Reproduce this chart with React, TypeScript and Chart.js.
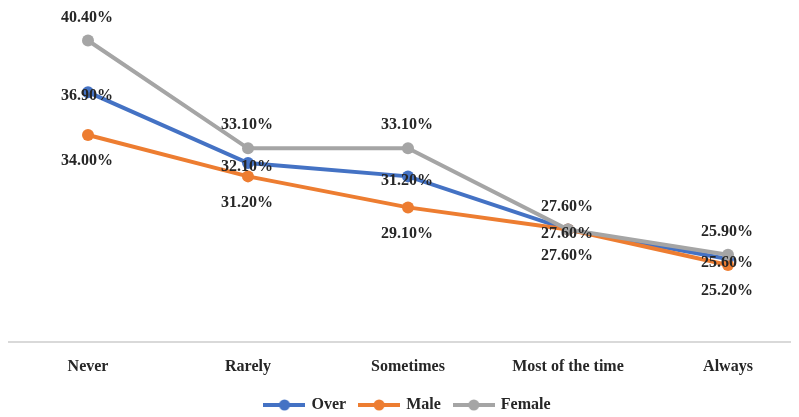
import React, { useEffect, useRef } from "react";
import { Chart, registerables } from "chart.js";

Chart.register(...registerables);

const categories = ["Never", "Rarely", "Sometimes", "Most of the time", "Always"];
const overValues = [36.9, 32.1, 31.2, 27.6, 25.6];
const maleValues = [34.0, 31.2, 29.1, 27.6, 25.2];
const femaleValues = [40.4, 33.1, 33.1, 27.6, 25.9];
const seriesNames = ["Over", "Male", "Female"];

const COLORS = ["#4472C4", "#ED7D31", "#A5A5A5"];
// vertical shift of each series' value labels relative to the point
const LABEL_SHIFT = [4, 26, -23];
const FONT = "'Liberation Serif', 'Times New Roman', serif";

function legendSwatch(color: string): HTMLCanvasElement {
  const c = document.createElement("canvas");
  c.width = 42;
  c.height = 14;
  const g = c.getContext("2d")!;
  g.strokeStyle = color;
  g.lineWidth = 4;
  g.beginPath();
  g.moveTo(0, 7);
  g.lineTo(42, 7);
  g.stroke();
  g.fillStyle = color;
  g.beginPath();
  g.arc(21, 7, 5.5, 0, Math.PI * 2);
  g.fill();
  return c;
}

const valueLabels = {
  id: "valueLabels",
  afterDatasetsDraw(chart: any) {
    const ctx = chart.ctx;
    ctx.save();
    ctx.font = `bold 16px ${FONT}`;
    ctx.fillStyle = "#262626";
    ctx.textAlign = "center";
    ctx.textBaseline = "middle";
    chart.data.datasets.forEach((ds: any, i: number) => {
      const meta = chart.getDatasetMeta(i);
      meta.data.forEach((pt: any, j: number) => {
        const v = ds.data[j] as number;
        ctx.fillText(v.toFixed(2) + "%", pt.x - 1, pt.y + LABEL_SHIFT[i]);
      });
    });
    ctx.restore();
  },
};

export default function App() {
  const ref = useRef<HTMLCanvasElement>(null);

  useEffect(() => {
    if (!ref.current) return;
    const all = [overValues, maleValues, femaleValues];
    const chart = new Chart(ref.current, {
      type: "line",
      data: {
        labels: categories,
        datasets: all.map((vals, i) => ({
          label: seriesNames[i],
          data: vals,
          borderColor: COLORS[i],
          backgroundColor: COLORS[i],
          borderWidth: 4,
          pointRadius: 6,
          pointHoverRadius: 6,
          pointBorderWidth: 0,
          pointStyle: "circle",
          order: 2 - i,
          tension: 0,
          clip: false as any,
        })),
      },
      options: {
        animation: false,
        responsive: false,
        maintainAspectRatio: false,
        layout: { autoPadding: false, padding: 0 },
        plugins: {
          tooltip: { enabled: false },
          legend: {
            position: "bottom",
            labels: {
              usePointStyle: true,
              pointStyleWidth: 38,
              padding: 14,
              color: "#262626",
              font: { family: FONT, size: 16, weight: "bold" },
              sort: (a: any, b: any) => a.datasetIndex - b.datasetIndex,
              generateLabels: (ch: any) =>
                ch.data.datasets.map((ds: any, i: number) => ({
                  text: ds.label,
                  datasetIndex: i,
                  pointStyle: legendSwatch(COLORS[i]),
                  fillStyle: COLORS[i],
                  strokeStyle: COLORS[i],
                  lineWidth: 0,
                  hidden: false,
                  fontColor: "#262626",
                })),
            },
          },
        },
        scales: {
          x: {
            offset: true,
            grid: { display: false },
            border: { display: true, color: "#D9D9D9", width: 2 },
            ticks: {
              padding: 3,
              color: "#262626",
              font: { family: FONT, size: 16, weight: "bold", lineHeight: 1.7 },
            },
          },
          y: {
            display: false,
            min: 20,
            max: 42.6,
          },
        },
      },
      plugins: [valueLabels],
    });
    return () => chart.destroy();
  }, []);

  return (
    <div style={{ width: 791, height: 409, overflow: "hidden" }}>
      <canvas ref={ref} width={800} height={415} style={{ display: "block" }} />
    </div>
  );
}
